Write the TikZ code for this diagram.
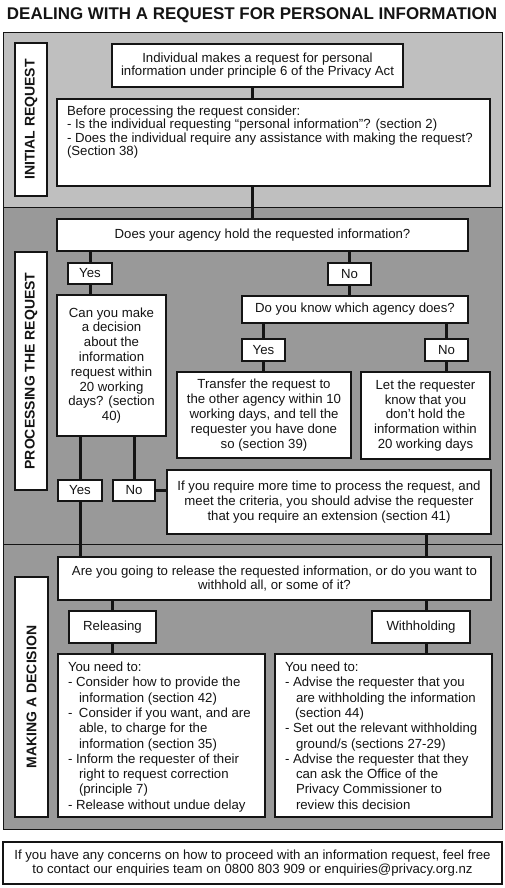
\documentclass[tikz,border=0pt]{standalone}
\usepackage{fontspec}
\setmainfont{Liberation Sans}
\usepackage{graphicx}
\definecolor{panelA}{gray}{0.75}
\definecolor{panelB}{gray}{0.60}
\definecolor{ink}{gray}{0.08}
\begin{document}
\begin{tikzpicture}[x=1pt,y=-1pt,
  box/.style={draw=ink, line width=1.1pt, fill=white, inner sep=0pt, align=center,
    font=\fontsize{13.2}{14.8}\selectfont, text=ink},
  sz/.style 2 args={minimum width=#1pt, minimum height=#2pt},
  lab/.style={box, rotate=90, font=\bfseries\fontsize{14}{14}\selectfont},
  conn/.style={draw=ink, line width=3pt},
  panel/.style={draw=ink, line width=1pt}]
\useasboundingbox (0,0) rectangle (504,888);
\fill[white] (0,0) rectangle (504,888);

% panels
\fill[panelA] (3,33) rectangle (502,207);
\fill[panelB] (3,207) rectangle (502,829);
\draw[panel] (3,207) -- (502,207);
\draw[panel] (3,544) -- (502,544);
\draw[panel] (3,33) rectangle (502,829);

% title
\node[text=ink, inner sep=0pt] (title) at (252,15.5)
  {\resizebox{490pt}{!}{\bfseries\fontsize{17}{17}\selectfont DEALING WITH A REQUEST FOR PERSONAL INFORMATION}};

% section labels
\node[lab, minimum width=153pt, minimum height=32pt] (lab1) at (31,119.5) {INITIAL REQUEST};
\node[lab, minimum width=238pt, minimum height=32pt] (lab2) at (31,371) {PROCESSING THE REQUEST};
\node[lab, minimum width=240pt, minimum height=33pt] (lab3) at (31.5,697) {MAKING A DECISION};

% coordinates for connector x positions
\coordinate (x252) at (252,0);
\coordinate (x426) at (426,0);

% initial request
\node[box, sz={291}{43}, font=\fontsize{13.2}{13.4}\selectfont] (req) at (257.5,65.5)
  {Individual makes a request for personal\\information under principle 6 of the Privacy Act};
\node[box, inner xsep=10pt, inner ysep=7pt, align=left] (consider) at (273.5,142.5)
  {\parbox[c][73pt][t]{413pt}{\fontsize{13.2}{13.4}\selectfont\raggedright
   Before processing the request consider:\\
   - Is the individual requesting “personal information”? (section 2)\\
   - Does the individual require any assistance with making the request?\\
   (Section 38)}};

% processing
\node[box, sz={411}{32}] (hold) at (262.5,235) {Does your agency hold the requested information?};
\node[box, sz={44}{21}] (yes1) at (90,273.5) {Yes};
\node[box, sz={43}{22}] (no1) at (349.5,274) {No};
\node[box, sz={109}{141}] (canyou) at (111.5,365.5)
  {Can you make\\a decision\\about the\\information\\request within\\20 working\\days? (section\\40)};
\node[box, sz={226}{27}] (knows) at (355,309.5) {Do you know which agency does?};
\node[box, sz={43}{22}] (yes2) at (263.5,350) {Yes};
\node[box, sz={43}{22}] (no2) at (446.5,350) {No};
\node[box, sz={174}{86}] (transfer) at (264,415)
  {Transfer the request to\\the other agency within 10\\working days, and tell the\\requester you have done\\so (section 39)};
\node[box, sz={129}{87}] (letknow) at (425.5,415.5)
  {Let the requester\\know that you\\don’t hold the\\information within\\20 working days};
\node[box, sz={44}{21}] (yes3) at (80,490.5) {Yes};
\node[box, sz={42}{21}] (no3) at (134,490.5) {No};
\node[box, sz={324}{64}] (ext) at (329,502)
  {If you require more time to process the request, and\\meet the criteria, you should advise the requester\\that you require an extension (section 41)};

% decision
\node[box, sz={433}{43}] (release) at (274.5,578.5)
  {Are you going to release the requested information, or do you want to\\withhold all, or some of it?};
\node[box, sz={87}{32}] (releasing) at (112.5,627) {Releasing};
\node[box, sz={98}{32}] (withholding) at (421,627) {Withholding};
\node[box, inner xsep=10pt, inner ysep=8pt, align=left] (rellist) at (161.5,735.5)
  {\parbox[c][147pt][t]{187pt}{\fontsize{13.2}{15.3}\selectfont\raggedright
   You need to:\\
   - Consider how to provide the\\
   \hspace*{11pt}information (section 42)\\
   \makebox[11pt][l]{-}Consider if you want, and are\\
   \hspace*{11pt}able, to charge for the\\
   \hspace*{11pt}information (section 35)\\
   - Inform the requester of their\\
   \hspace*{11pt}right to request correction\\
   \hspace*{11pt}(principle 7)\\
   - Release without undue delay}};
\node[box, inner xsep=10pt, inner ysep=8pt, align=left] (withlist) at (383.5,735.5)
  {\parbox[c][147pt][t]{197pt}{\fontsize{13.2}{15.3}\selectfont\raggedright
   You need to:\\
   - Advise the requester that you\\
   \hspace*{11pt}are withholding the information\\
   \hspace*{10pt}(section 44)\\
   - Set out the relevant withholding\\
   \hspace*{11pt}ground/s (sections 27-29)\\
   - Advise the requester that they\\
   \hspace*{11pt}can ask the Office of the\\
   \hspace*{11pt}Privacy Commissioner to\\
   \hspace*{11pt}review this decision}};

% footer
\node[box, sz={499}{42}] (footer) at (252.5,863)
  {If you have any concerns on how to proceed with an information request, feel free\\to contact our enquiries team on 0800 803 909 or enquiries@privacy.org.nz};

% connectors
\draw[conn] (req.south -| x252) -- (consider.north -| x252);
\draw[conn] (consider.south -| x252) -- (hold.north -| x252);
\draw[conn] (yes1.north |- hold.south) -- (yes1.north);
\draw[conn] (yes1.south) -- (yes1.south |- canyou.north);
\draw[conn] (no1.north |- hold.south) -- (no1.north);
\draw[conn] (no1.south) -- (no1.south |- knows.north);
\draw[conn] (yes2.north |- knows.south) -- (yes2.north);
\draw[conn] (yes2.south) -- (yes2.south |- transfer.north);
\draw[conn] (no2.north |- knows.south) -- (no2.north);
\draw[conn] (no2.south) -- (no2.south |- letknow.north);
\draw[conn] (yes3.north |- canyou.south) -- (yes3.north);
\draw[conn] (yes3.south) -- (yes3.south |- release.north);
\draw[conn] (no3.north |- canyou.south) -- (no3.north);
\draw[conn] (no3.east) -- (ext.west |- no3.east);
\draw[conn] (ext.south -| x426) -- (release.north -| x426);
\draw[conn] (releasing.north |- release.south) -- (releasing.north);
\draw[conn] (releasing.south) -- (releasing.south |- rellist.north);
\draw[conn] (release.south -| x426) -- (withholding.north -| x426);
\draw[conn] (withholding.south -| x426) -- (withlist.north -| x426);
\end{tikzpicture}
\end{document}
